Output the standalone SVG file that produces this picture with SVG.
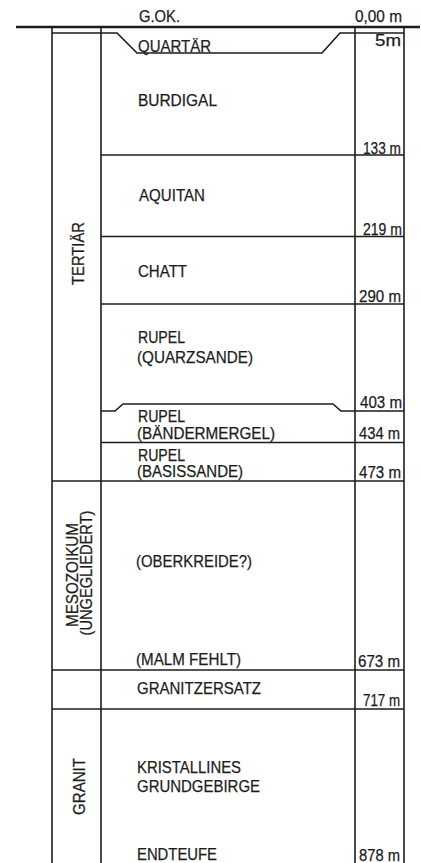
<svg xmlns="http://www.w3.org/2000/svg" width="421" height="863" viewBox="0 0 421 863">
<style>
.ln{stroke:#1c1c1c;stroke-width:1.6;fill:none}
.top{stroke:#1c1c1c;stroke-width:2.6;fill:none}
text{font-family:"Liberation Sans",Arial,sans-serif;fill:#1c1c1c;stroke:#1c1c1c;stroke-width:0.25}
.lb{font-size:17px}
.sm{font-size:16px}
.nm{font-size:16px}
.rt{font-size:16px}
</style>
<rect width="421" height="863" fill="#ffffff"/>
<g id="frame">
<line class="top" x1="16" y1="27" x2="420" y2="27"/>
<line class="ln" x1="52" y1="27" x2="52" y2="863"/>
<line class="ln" x1="101" y1="27" x2="101" y2="863"/>
<line class="ln" x1="355" y1="27" x2="355" y2="863"/>
<line class="ln" x1="404" y1="27" x2="404" y2="863"/>
</g>
<g id="connectors">
<polyline class="ln" points="52,33 117,33 137,53 322,53 340,33 404,33"/>
<line class="ln" x1="101" y1="155" x2="404" y2="155"/>
<line class="ln" x1="101" y1="236.5" x2="404" y2="236.5"/>
<line class="ln" x1="101" y1="304" x2="404" y2="304"/>
<polyline class="ln" points="101,411 115,411 123,404 333,404 341,411 404,411"/>
<line class="ln" x1="101" y1="442.5" x2="404" y2="442.5"/>
<line class="ln" x1="52" y1="481" x2="404" y2="481"/>
<line class="ln" x1="52" y1="670" x2="404" y2="670"/>
<line class="ln" x1="52" y1="709" x2="404" y2="709"/>
</g>
<g id="surface">
<text class="nm" x="139" y="22" textLength="41" lengthAdjust="spacingAndGlyphs">G.OK.</text>
<text class="nm" x="355" y="22" textLength="47" lengthAdjust="spacingAndGlyphs">0,00 m</text>
</g>
<g id="quartaer">
<text class="lb" x="138" y="52" textLength="73" lengthAdjust="spacingAndGlyphs">QUARTÄR</text>
<text class="nm" x="375" y="46" textLength="26" lengthAdjust="spacingAndGlyphs">5m</text>
</g>
<g id="burdigal">
<text class="lb" x="138" y="106" textLength="79" lengthAdjust="spacingAndGlyphs">BURDIGAL</text>
<text class="nm" x="363" y="154" textLength="38" lengthAdjust="spacingAndGlyphs">133 m</text>
</g>
<g id="aquitan">
<text class="lb" x="139" y="201" textLength="66" lengthAdjust="spacingAndGlyphs">AQUITAN</text>
<text class="nm" x="363" y="235" textLength="39" lengthAdjust="spacingAndGlyphs">219 m</text>
</g>
<g id="chatt">
<text class="lb" x="138" y="277" textLength="49" lengthAdjust="spacingAndGlyphs">CHATT</text>
<text class="nm" x="359" y="302" textLength="42" lengthAdjust="spacingAndGlyphs">290 m</text>
</g>
<g id="rupel-quarzsande">
<text class="lb" x="138" y="343" textLength="47" lengthAdjust="spacingAndGlyphs">RUPEL</text>
<text class="lb" x="137" y="363" textLength="116" lengthAdjust="spacingAndGlyphs">(QUARZSANDE)</text>
<text class="nm" x="360" y="408" textLength="42" lengthAdjust="spacingAndGlyphs">403 m</text>
</g>
<g id="rupel-baendermergel">
<text class="sm" x="138" y="422" textLength="47" lengthAdjust="spacingAndGlyphs">RUPEL</text>
<text class="sm" x="137" y="439" textLength="138" lengthAdjust="spacingAndGlyphs">(BÄNDERMERGEL)</text>
<text class="nm" x="359" y="439" textLength="41" lengthAdjust="spacingAndGlyphs">434 m</text>
</g>
<g id="rupel-basissande">
<text class="sm" x="138" y="461" textLength="47" lengthAdjust="spacingAndGlyphs">RUPEL</text>
<text class="sm" x="137" y="477" textLength="106" lengthAdjust="spacingAndGlyphs">(BASISSANDE)</text>
<text class="nm" x="359" y="478" textLength="42" lengthAdjust="spacingAndGlyphs">473 m</text>
</g>
<g id="oberkreide">
<text class="lb" x="136" y="567" textLength="116" lengthAdjust="spacingAndGlyphs">(OBERKREIDE?)</text>
<text class="lb" x="136" y="665" textLength="105" lengthAdjust="spacingAndGlyphs">(MALM FEHLT)</text>
<text class="nm" x="358" y="667" textLength="42" lengthAdjust="spacingAndGlyphs">673 m</text>
</g>
<g id="granitzersatz">
<text class="lb" x="137" y="694" textLength="124" lengthAdjust="spacingAndGlyphs">GRANITZERSATZ</text>
<text class="nm" x="363" y="706" textLength="37" lengthAdjust="spacingAndGlyphs">717 m</text>
</g>
<g id="grundgebirge">
<text class="lb" x="137" y="773" textLength="104" lengthAdjust="spacingAndGlyphs">KRISTALLINES</text>
<text class="lb" x="137" y="792" textLength="123" lengthAdjust="spacingAndGlyphs">GRUNDGEBIRGE</text>
<text class="lb" x="137" y="860" textLength="80" lengthAdjust="spacingAndGlyphs">ENDTEUFE</text>
<text class="nm" x="359" y="861" textLength="41" lengthAdjust="spacingAndGlyphs">878 m</text>
</g>
<g id="tertiaer">
<text class="rt" transform="translate(84,253.5) rotate(-90)" text-anchor="middle" textLength="63" lengthAdjust="spacingAndGlyphs">TERTIÄR</text>
</g>
<g id="mesozoikum">
<text class="rt" transform="translate(78,575) rotate(-90)" text-anchor="middle" textLength="104" lengthAdjust="spacingAndGlyphs">MESOZOIKUM</text>
<text class="rt" transform="translate(92,573) rotate(-90)" text-anchor="middle" textLength="125" lengthAdjust="spacingAndGlyphs">(UNGEGLIEDERT)</text>
</g>
<g id="granit">
<text class="rt" transform="translate(85,786.5) rotate(-90)" text-anchor="middle" textLength="57" lengthAdjust="spacingAndGlyphs">GRANIT</text>
</g>
</svg>
